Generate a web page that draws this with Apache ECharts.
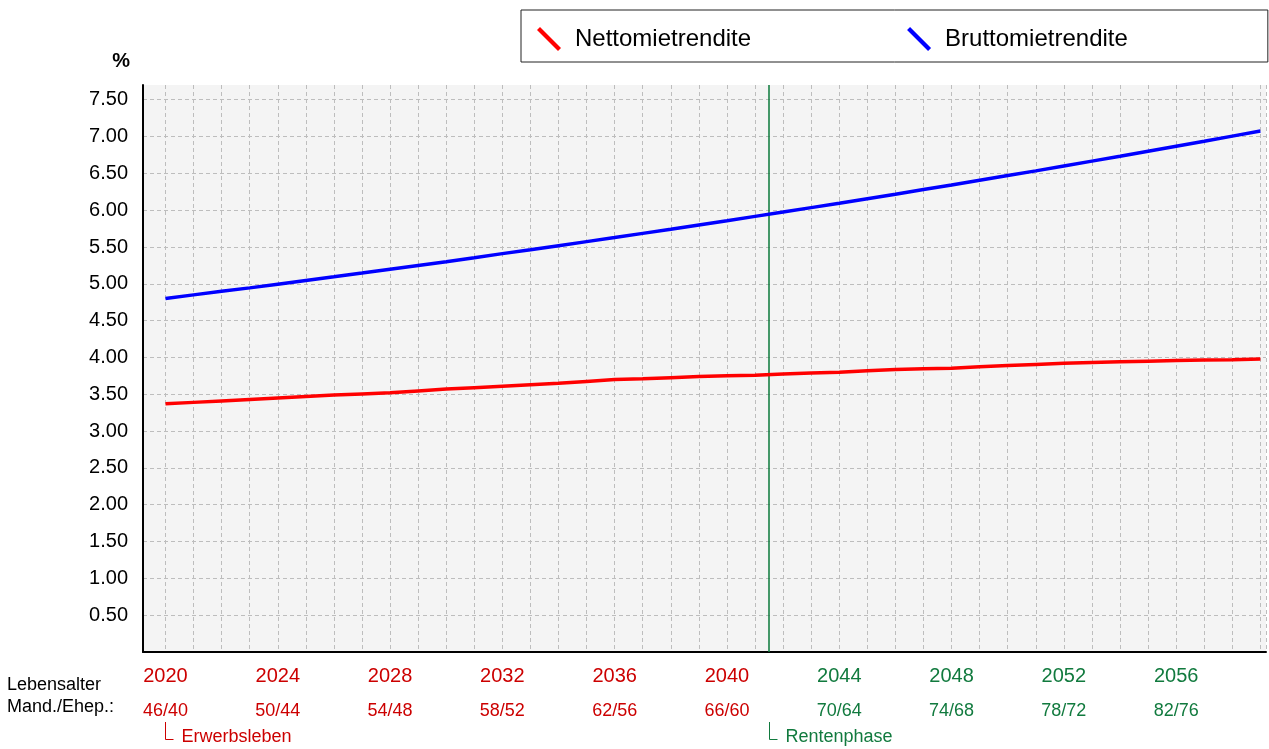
<!DOCTYPE html>
<html>
<head>
<meta charset="utf-8">
<title>Mietrendite</title>
<script src="https://cdn.jsdelivr.net/npm/echarts@6/dist/echarts.min.js"></script>
<style>
  html, body { margin: 0; padding: 0; background: #fff; }
  #main { width: 1269px; height: 749px; }
</style>
</head>
<body>
<div id="main"></div>
<script>
// Daten
var years = [2020, 2021, 2022, 2023, 2024, 2025, 2026, 2027, 2028, 2029,
             2030, 2031, 2032, 2033, 2034, 2035, 2036, 2037, 2038, 2039,
             2040, 2041, 2042, 2043, 2044, 2045, 2046, 2047, 2048, 2049,
             2050, 2051, 2052, 2053, 2054, 2055, 2056, 2057, 2058, 2059];
var netto = [3.37, 3.39, 3.41, 3.43, 3.45, 3.47, 3.49, 3.505, 3.52, 3.545,
             3.57, 3.59, 3.61, 3.63, 3.65, 3.675, 3.70, 3.71, 3.725, 3.74,
             3.75, 3.76, 3.775, 3.79, 3.80, 3.82, 3.835, 3.845, 3.855, 3.875,
             3.89, 3.905, 3.92, 3.93, 3.94, 3.95, 3.96, 3.965, 3.97, 3.98];
var brutto = [4.80, 4.85, 4.90, 4.945, 4.995, 5.045, 5.095, 5.146, 5.198, 5.25,
              5.30, 5.355, 5.41, 5.463, 5.518, 5.573, 5.628, 5.685, 5.742, 5.80,
              5.857, 5.916, 5.975, 6.035, 6.095, 6.156, 6.217, 6.28, 6.342, 6.406,
              6.47, 6.534, 6.60, 6.666, 6.732, 6.80, 6.868, 6.936, 7.006, 7.076];
var tickYears = [2020, 2024, 2028, 2032, 2036, 2040, 2044, 2048, 2052, 2056];
var ageLabels = ['46/40', '50/44', '54/48', '58/52', '62/56', '66/60', '70/64', '74/68', '78/72', '82/76'];
var rentenBeginn = 2041.5;

var RED_TXT = '#cc0000';
var GREEN_TXT = '#117a3e';

var myChart = echarts.init(document.getElementById('main'));

function pairs(vals) {
    var out = [];
    for (var i = 0; i < years.length; i++) out.push([years[i], vals[i]]);
    return out;
}

option = {
    animation: false,
    textStyle: { fontFamily: 'Liberation Sans, Arial, sans-serif' },
    legend: {
        left: 521,
        top: 10,
        padding: [17, 140, 11, 16],
        itemGap: 156,
        itemWidth: 24,
        itemHeight: 24,
        borderColor: '#222',
        borderWidth: 1,
        icon: 'path://M0,3 L3,0 L24,21 L21,24 Z',
        textStyle: { fontSize: 24, color: '#000', padding: [0, 0, 0, 9] },
        data: ['Nettomietrendite', 'Bruttomietrendite']
    },
    grid: {
        left: 143, right: 0, top: 85, bottom: 97,
        show: true, backgroundColor: '#f4f4f4', borderWidth: 0
    },
    xAxis: {
        type: 'value',
        min: 2019.2,
        max: 2059.2,
        splitNumber: 40,
        axisLine: { show: true, onZero: false, lineStyle: { color: '#000', width: 2 } },
        axisTick: { show: false },
        splitLine: { show: true, lineStyle: { color: '#bdbdbd', type: [4, 3], width: 1 } },
        axisLabel: {
            margin: 7,
            formatter: function (v) {
                var i = tickYears.indexOf(v);
                if (i < 0) return '';
                var c = v > rentenBeginn ? 'g' : 'r';
                return '{' + c + 'y|' + v + '}\n{' + c + 'a|' + ageLabels[i] + '}';
            },
            rich: {
                ry: { fontSize: 20, color: RED_TXT, lineHeight: 34 },
                ra: { fontSize: 18, color: RED_TXT, lineHeight: 36 },
                gy: { fontSize: 20, color: GREEN_TXT, lineHeight: 34 },
                ga: { fontSize: 18, color: GREEN_TXT, lineHeight: 36 }
            }
        }
    },
    yAxis: {
        type: 'value',
        min: 0,
        max: 7.7,
        interval: 0.5,
        name: '%',
        nameGap: 14,
        nameTextStyle: { fontSize: 20, fontWeight: 'bold', color: '#000', align: 'right', padding: [0, 13, 0, 0] },
        axisLine: { show: true, lineStyle: { color: '#000', width: 2 } },
        axisTick: { show: false },
        axisLabel: {
            margin: 15,
            fontSize: 20,
            color: '#000',
            showMinLabel: false,
            showMaxLabel: false,
            formatter: function (v) { return v.toFixed(2); }
        },
        splitLine: {
            show: true, showMinLine: false, showMaxLine: false,
            lineStyle: { color: '#bdbdbd', type: [4, 3], width: 1 }
        }
    },
    series: [
        {
            name: 'Nettomietrendite',
            type: 'line',
            symbol: 'none',
            color: '#ff0000',
            lineStyle: { width: 3.5, color: '#ff0000' },
            z: 3,
            data: pairs(netto),
            markLine: {
                silent: true,
                symbol: 'none',
                label: { show: false },
                lineStyle: { color: '#0b7a3b', width: 1.5, type: 'solid' },
                data: [{ xAxis: rentenBeginn }],
                z: 1
            }
        },
        {
            name: 'Bruttomietrendite',
            type: 'line',
            symbol: 'none',
            color: '#0000ff',
            lineStyle: { width: 3.5, color: '#0000ff' },
            z: 3,
            data: pairs(brutto)
        }
    ]
};
myChart.setOption(option);

// Beschriftung unter der Achse
var xStart = myChart.convertToPixel({ gridIndex: 0 }, [years[0], 0])[0];
var xRente = myChart.convertToPixel({ gridIndex: 0 }, [rentenBeginn, 0])[0];
function bracket(x, text, color) {
    return [
        { type: 'polyline', shape: { points: [[x, 722], [x, 739.5], [x + 8, 739.5]] },
          style: { stroke: color, lineWidth: 1, fill: null } },
        { type: 'text', left: x + 16, top: 739 - 11,
          style: { text: text, fill: color, fontSize: 18, fontFamily: 'Liberation Sans, Arial, sans-serif' } }
    ];
}
myChart.setOption({
    graphic: [
        { type: 'text', left: 7, top: 687 - 11,
          style: { text: 'Lebensalter', fill: '#000', fontSize: 18, fontFamily: 'Liberation Sans, Arial, sans-serif' } },
        { type: 'text', left: 7, top: 709 - 11,
          style: { text: 'Mand./Ehep.:', fill: '#000', fontSize: 18, fontFamily: 'Liberation Sans, Arial, sans-serif' } }
    ].concat(bracket(Math.round(xStart) + 0.5, 'Erwerbsleben', RED_TXT))
     .concat(bracket(Math.round(xRente) + 0.5, 'Rentenphase', GREEN_TXT))
});

window.onresize = myChart.resize;
</script>
</body>
</html>
